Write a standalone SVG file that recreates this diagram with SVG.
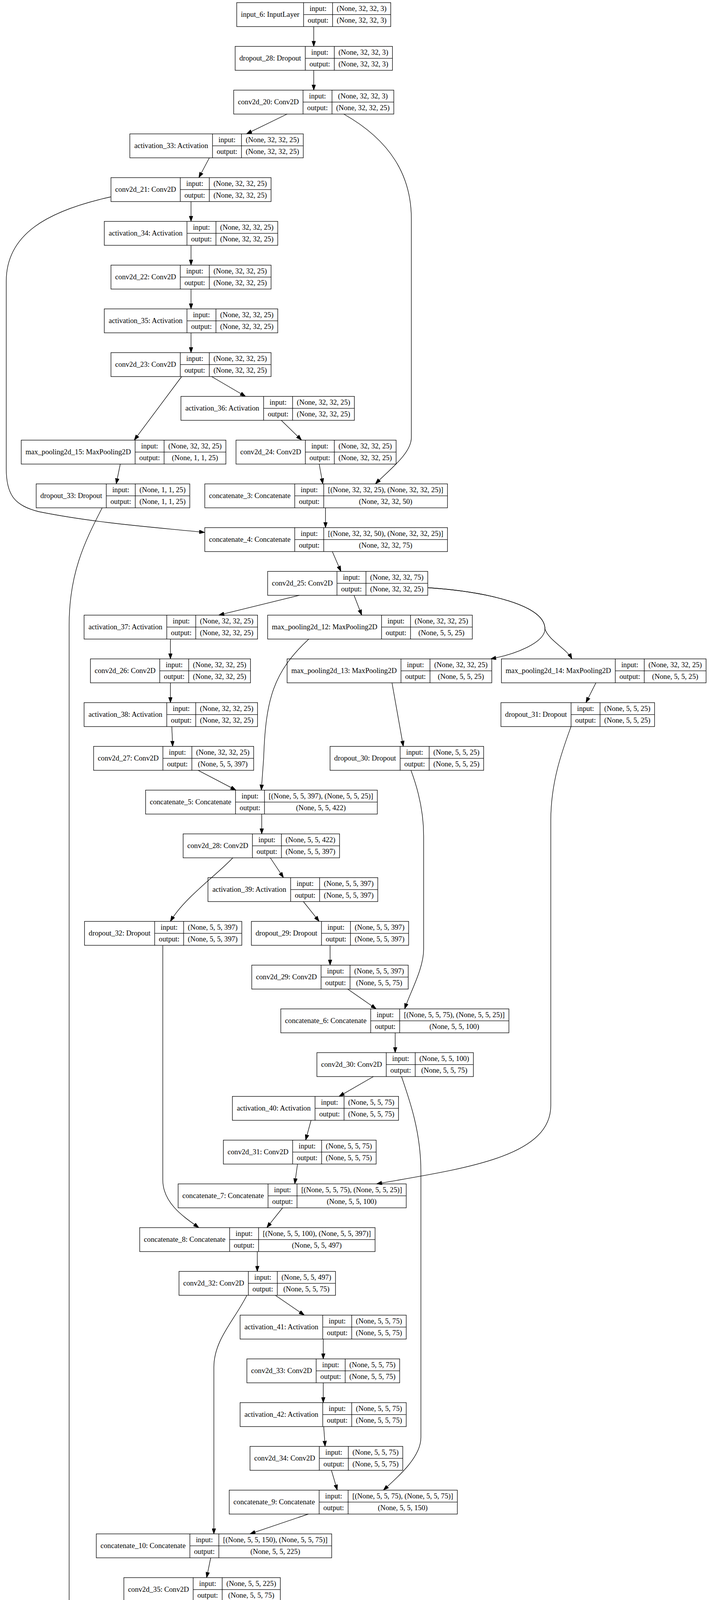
<svg xmlns="http://www.w3.org/2000/svg" width="1815" height="5787" viewBox="0 0 1815 5787">
<style>
.n rect,.n path{fill:none;stroke:#000;stroke-width:1.33}
text{font-family:"Liberation Serif","Times New Roman",serif;font-size:18.67px;text-anchor:middle;fill:#000}
#edges path{fill:none;stroke:#000;stroke-width:1.33;marker-end:url(#ah)}
</style>
<defs>
<marker id="ah" markerUnits="userSpaceOnUse" markerWidth="14" markerHeight="10" viewBox="0 0 13.33 9.33" refX="13.33" refY="4.67" orient="auto"><path d="M0,0 L13.33,4.67 L0,9.33 Z" fill="#000" stroke="#000" stroke-width="1"/></marker>
</defs>
<rect width="1815" height="5787" fill="#fff"/>
<g id="edges">
<path d="M803.2,68 L803.2,118.7"/>
<path d="M803.2,180 L803.2,230.7"/>
<path d="M735,292 L631,342.7"/>
<path d="M880,292 C1000,360 1053,450 1053,560 L1053,1120 C1053,1160 1000,1200 961,1238.7"/>
<path d="M536,404 L509,454.7"/>
<path d="M283.6,504 C120,540 16,600 16,720 L16,1200 C16,1270 40,1295 100,1310 C250,1340 400,1350 524,1363"/>
<path d="M489,516 L489,566.7"/>
<path d="M489,628 L489,678.7"/>
<path d="M489,740 L489,790.7"/>
<path d="M489,852 L489,902.7"/>
<path d="M465,964 L343.7,1126.7"/>
<path d="M541.7,964 L628.5,1014.7"/>
<path d="M720,1076 L772,1126.7"/>
<path d="M307.9,1188 L297.5,1238.7"/>
<path d="M817.1,1188 L826.4,1238.7"/>
<path d="M261.6,1300 C215,1390 177,1470 177,1600 L177,4200 C177,4270 230,4320 264,4374.7"/>
<path d="M833.3,1300 L833.3,1350.7"/>
<path d="M850.7,1412 L872.7,1462.7"/>
<path d="M766.2,1524 L560,1574.7"/>
<path d="M906.3,1524 L926,1574.7"/>
<path d="M1096,1504.5 C1250,1515 1395,1550 1395,1610 C1395,1645 1320,1675 1256,1686.7"/>
<path d="M1096,1504.5 C1250,1515 1395,1550 1395,1610 C1405,1640 1450,1660 1464,1686.7"/>
<path d="M436.3,1636 L436.3,1686.7"/>
<path d="M436.3,1748 L436.3,1798.7"/>
<path d="M439.8,1860 L442,1910.7"/>
<path d="M507,1972 L604,2022.7"/>
<path d="M790.5,1636 C700,1720 680,1790 675,1940 L669,2022.7"/>
<path d="M1003.5,1748 L1032.4,1910.7"/>
<path d="M1525.5,1748 L1500,1798.7"/>
<path d="M1052,1972 C1070,2020 1084.5,2080 1084.5,2140 L1084.5,2430 C1084.5,2480 1050,2540 1036,2582.7"/>
<path d="M1461.8,1860 C1440,1920 1410,2000 1410,2100 L1410,2830 C1410,2960 1200,2990 964,3030.7"/>
<path d="M670,2084 L670,2134.7"/>
<path d="M692,2196 L725.7,2246.7"/>
<path d="M596,2196 C555,2240 470,2300 436.3,2358.7"/>
<path d="M776.6,2308 L817,2358.7"/>
<path d="M845,2420 L845,2470.7"/>
<path d="M890,2532 L963,2582.7"/>
<path d="M416.7,2420 L416.7,3020 C416.7,3080 470,3115 509,3142.7"/>
<path d="M1011.6,2644 L1011.6,2694.7"/>
<path d="M956,2756 L868,2806.7"/>
<path d="M1027.8,2756 C1050,2820 1077.5,2900 1077.5,3000 L1077.5,3680 C1077.5,3730 1020,3780 981.5,3814.7"/>
<path d="M796.3,2868 L782.4,2918.7"/>
<path d="M761.6,2980 L754.6,3030.7"/>
<path d="M723.4,3092 L683,3142.7"/>
<path d="M658.6,3204 L658.6,3254.7"/>
<path d="M704.9,3316 L779,3366.7"/>
<path d="M632,3316 C600,3380 547.5,3430 547.5,3500 L547.5,3926.7"/>
<path d="M827.5,3428 L827.5,3478.7"/>
<path d="M827.5,3540 L827.5,3590.7"/>
<path d="M828.7,3652 L832.2,3702.7"/>
<path d="M848.4,3764 L863.4,3814.7"/>
<path d="M789.4,3876 L640,3926.7"/>
<path d="M539.4,3988 L529,4038.7"/>
<path d="M501,4100 L476.9,4150.7"/>
<path d="M451.4,4212 L442.1,4262.7"/>
<path d="M400.5,4324 L345,4374.7"/>
<path d="M306.3,4436 L306.3,4486.7"/>
<path d="M306.3,4548 L306.3,4598.7"/>
<path d="M306.3,4660 L306.3,4710.7"/>
<path d="M306.3,4772 L306.3,4822.7"/>
<path d="M306.3,4884 L306.3,4934.7"/>
<path d="M306.3,4996 L306.3,5046.7"/>
<path d="M306.3,5108 L306.3,5158.7"/>
<path d="M306.3,5220 L306.3,5270.7"/>
<path d="M306.3,5332 L306.3,5382.7"/>
<path d="M306.3,5444 L306.3,5494.7"/>
<path d="M306.3,5556 L306.3,5606.7"/>
<path d="M306.3,5668 L306.3,5718.7"/>
</g>

<g id="input_6" class="n" transform="translate(606,6.7)"><rect width="394.3" height="61.33"/><path d="M171.2,0V61.33M245.4,0V61.33M171.2,30.67H394.3"/><text x="85.6" y="36.3">input_6: InputLayer</text><text x="208.3" y="21">input:</text><text x="208.3" y="51.6">output:</text><text x="319.85" y="21">(None, 32, 32, 3)</text><text x="319.85" y="51.6">(None, 32, 32, 3)</text></g>

<g id="dropout_28" class="n" transform="translate(602,118.7)"><rect width="402.6" height="61.33"/><path d="M179.5,0V61.33M253.7,0V61.33M179.5,30.67H402.6"/><text x="89.75" y="36.3">dropout_28: Dropout</text><text x="216.6" y="21">input:</text><text x="216.6" y="51.6">output:</text><text x="328.15" y="21">(None, 32, 32, 3)</text><text x="328.15" y="51.6">(None, 32, 32, 3)</text></g>

<g id="conv2d_20" class="n" transform="translate(598.3,230.7)"><rect width="409.8" height="61.33"/><path d="M177.4,0V61.33M251.6,0V61.33M177.4,30.67H409.8"/><text x="88.7" y="36.3">conv2d_20: Conv2D</text><text x="214.5" y="21">input:</text><text x="214.5" y="51.6">output:</text><text x="330.7" y="21">(None, 32, 32, 3)</text><text x="330.7" y="51.6">(None, 32, 32, 25)</text></g>

<g id="activation_33" class="n" transform="translate(332.4,342.7)"><rect width="444" height="61.33"/><path d="M211.6,0V61.33M285.8,0V61.33M211.6,30.67H444"/><text x="105.8" y="36.3">activation_33: Activation</text><text x="248.7" y="21">input:</text><text x="248.7" y="51.6">output:</text><text x="364.9" y="21">(None, 32, 32, 25)</text><text x="364.9" y="51.6">(None, 32, 32, 25)</text></g>

<g id="conv2d_21" class="n" transform="translate(284.1,454.7)"><rect width="409.8" height="61.33"/><path d="M177.4,0V61.33M251.6,0V61.33M177.4,30.67H409.8"/><text x="88.7" y="36.3">conv2d_21: Conv2D</text><text x="214.5" y="21">input:</text><text x="214.5" y="51.6">output:</text><text x="330.7" y="21">(None, 32, 32, 25)</text><text x="330.7" y="51.6">(None, 32, 32, 25)</text></g>

<g id="activation_34" class="n" transform="translate(267,566.7)"><rect width="444" height="61.33"/><path d="M211.6,0V61.33M285.8,0V61.33M211.6,30.67H444"/><text x="105.8" y="36.3">activation_34: Activation</text><text x="248.7" y="21">input:</text><text x="248.7" y="51.6">output:</text><text x="364.9" y="21">(None, 32, 32, 25)</text><text x="364.9" y="51.6">(None, 32, 32, 25)</text></g>

<g id="conv2d_22" class="n" transform="translate(284.1,678.7)"><rect width="409.8" height="61.33"/><path d="M177.4,0V61.33M251.6,0V61.33M177.4,30.67H409.8"/><text x="88.7" y="36.3">conv2d_22: Conv2D</text><text x="214.5" y="21">input:</text><text x="214.5" y="51.6">output:</text><text x="330.7" y="21">(None, 32, 32, 25)</text><text x="330.7" y="51.6">(None, 32, 32, 25)</text></g>

<g id="activation_35" class="n" transform="translate(267,790.7)"><rect width="444" height="61.33"/><path d="M211.6,0V61.33M285.8,0V61.33M211.6,30.67H444"/><text x="105.8" y="36.3">activation_35: Activation</text><text x="248.7" y="21">input:</text><text x="248.7" y="51.6">output:</text><text x="364.9" y="21">(None, 32, 32, 25)</text><text x="364.9" y="51.6">(None, 32, 32, 25)</text></g>

<g id="conv2d_23" class="n" transform="translate(284.1,902.7)"><rect width="409.8" height="61.33"/><path d="M177.4,0V61.33M251.6,0V61.33M177.4,30.67H409.8"/><text x="88.7" y="36.3">conv2d_23: Conv2D</text><text x="214.5" y="21">input:</text><text x="214.5" y="51.6">output:</text><text x="330.7" y="21">(None, 32, 32, 25)</text><text x="330.7" y="51.6">(None, 32, 32, 25)</text></g>

<g id="activation_36" class="n" transform="translate(463.2,1014.7)"><rect width="444" height="61.33"/><path d="M211.6,0V61.33M285.8,0V61.33M211.6,30.67H444"/><text x="105.8" y="36.3">activation_36: Activation</text><text x="248.7" y="21">input:</text><text x="248.7" y="51.6">output:</text><text x="364.9" y="21">(None, 32, 32, 25)</text><text x="364.9" y="51.6">(None, 32, 32, 25)</text></g>

<g id="max_pooling2d_15" class="n" transform="translate(54.4,1126.7)"><rect width="523.9" height="61.33"/><path d="M291.5,0V61.33M365.7,0V61.33M291.5,30.67H523.9"/><text x="145.75" y="36.3">max_pooling2d_15: MaxPooling2D</text><text x="328.6" y="21">input:</text><text x="328.6" y="51.6">output:</text><text x="444.8" y="21">(None, 32, 32, 25)</text><text x="444.8" y="51.6">(None, 1, 1, 25)</text></g>

<g id="conv2d_24" class="n" transform="translate(604.2,1126.7)"><rect width="409.8" height="61.33"/><path d="M177.4,0V61.33M251.6,0V61.33M177.4,30.67H409.8"/><text x="88.7" y="36.3">conv2d_24: Conv2D</text><text x="214.5" y="21">input:</text><text x="214.5" y="51.6">output:</text><text x="330.7" y="21">(None, 32, 32, 25)</text><text x="330.7" y="51.6">(None, 32, 32, 25)</text></g>

<g id="dropout_33" class="n" transform="translate(92.6,1238.7)"><rect width="393.2" height="61.33"/><path d="M179.5,0V61.33M253.7,0V61.33M179.5,30.67H393.2"/><text x="89.75" y="36.3">dropout_33: Dropout</text><text x="216.6" y="21">input:</text><text x="216.6" y="51.6">output:</text><text x="323.45" y="21">(None, 1, 1, 25)</text><text x="323.45" y="51.6">(None, 1, 1, 25)</text></g>

<g id="concatenate_3" class="n" transform="translate(524.3,1238.7)"><rect width="621.2" height="61.33"/><path d="M230.2,0V61.33M304.4,0V61.33M230.2,30.67H621.2"/><text x="115.1" y="36.3">concatenate_3: Concatenate</text><text x="267.3" y="21">input:</text><text x="267.3" y="51.6">output:</text><text x="462.8" y="21">[(None, 32, 32, 25), (None, 32, 32, 25)]</text><text x="462.8" y="51.6">(None, 32, 32, 50)</text></g>

<g id="concatenate_4" class="n" transform="translate(524.3,1350.7)"><rect width="621.2" height="61.33"/><path d="M230.2,0V61.33M304.4,0V61.33M230.2,30.67H621.2"/><text x="115.1" y="36.3">concatenate_4: Concatenate</text><text x="267.3" y="21">input:</text><text x="267.3" y="51.6">output:</text><text x="462.8" y="21">[(None, 32, 32, 50), (None, 32, 32, 25)]</text><text x="462.8" y="51.6">(None, 32, 32, 75)</text></g>

<g id="conv2d_25" class="n" transform="translate(685.2,1462.7)"><rect width="409.8" height="61.33"/><path d="M177.4,0V61.33M251.6,0V61.33M177.4,30.67H409.8"/><text x="88.7" y="36.3">conv2d_25: Conv2D</text><text x="214.5" y="21">input:</text><text x="214.5" y="51.6">output:</text><text x="330.7" y="21">(None, 32, 32, 75)</text><text x="330.7" y="51.6">(None, 32, 32, 25)</text></g>

<g id="activation_37" class="n" transform="translate(215.3,1574.7)"><rect width="444" height="61.33"/><path d="M211.6,0V61.33M285.8,0V61.33M211.6,30.67H444"/><text x="105.8" y="36.3">activation_37: Activation</text><text x="248.7" y="21">input:</text><text x="248.7" y="51.6">output:</text><text x="364.9" y="21">(None, 32, 32, 25)</text><text x="364.9" y="51.6">(None, 32, 32, 25)</text></g>

<g id="max_pooling2d_12" class="n" transform="translate(685.2,1574.7)"><rect width="523.9" height="61.33"/><path d="M291.5,0V61.33M365.7,0V61.33M291.5,30.67H523.9"/><text x="145.75" y="36.3">max_pooling2d_12: MaxPooling2D</text><text x="328.6" y="21">input:</text><text x="328.6" y="51.6">output:</text><text x="444.8" y="21">(None, 32, 32, 25)</text><text x="444.8" y="51.6">(None, 5, 5, 25)</text></g>

<g id="conv2d_26" class="n" transform="translate(231.5,1686.7)"><rect width="409.8" height="61.33"/><path d="M177.4,0V61.33M251.6,0V61.33M177.4,30.67H409.8"/><text x="88.7" y="36.3">conv2d_26: Conv2D</text><text x="214.5" y="21">input:</text><text x="214.5" y="51.6">output:</text><text x="330.7" y="21">(None, 32, 32, 25)</text><text x="330.7" y="51.6">(None, 32, 32, 25)</text></g>

<g id="max_pooling2d_13" class="n" transform="translate(735,1686.7)"><rect width="523.9" height="61.33"/><path d="M291.5,0V61.33M365.7,0V61.33M291.5,30.67H523.9"/><text x="145.75" y="36.3">max_pooling2d_13: MaxPooling2D</text><text x="328.6" y="21">input:</text><text x="328.6" y="51.6">output:</text><text x="444.8" y="21">(None, 32, 32, 25)</text><text x="444.8" y="51.6">(None, 5, 5, 25)</text></g>

<g id="max_pooling2d_14" class="n" transform="translate(1283.6,1686.7)"><rect width="523.9" height="61.33"/><path d="M291.5,0V61.33M365.7,0V61.33M291.5,30.67H523.9"/><text x="145.75" y="36.3">max_pooling2d_14: MaxPooling2D</text><text x="328.6" y="21">input:</text><text x="328.6" y="51.6">output:</text><text x="444.8" y="21">(None, 32, 32, 25)</text><text x="444.8" y="51.6">(None, 5, 5, 25)</text></g>

<g id="activation_38" class="n" transform="translate(215.3,1798.7)"><rect width="444" height="61.33"/><path d="M211.6,0V61.33M285.8,0V61.33M211.6,30.67H444"/><text x="105.8" y="36.3">activation_38: Activation</text><text x="248.7" y="21">input:</text><text x="248.7" y="51.6">output:</text><text x="364.9" y="21">(None, 32, 32, 25)</text><text x="364.9" y="51.6">(None, 32, 32, 25)</text></g>

<g id="dropout_31" class="n" transform="translate(1282.4,1798.7)"><rect width="393.2" height="61.33"/><path d="M179.5,0V61.33M253.7,0V61.33M179.5,30.67H393.2"/><text x="89.75" y="36.3">dropout_31: Dropout</text><text x="216.6" y="21">input:</text><text x="216.6" y="51.6">output:</text><text x="323.45" y="21">(None, 5, 5, 25)</text><text x="323.45" y="51.6">(None, 5, 5, 25)</text></g>

<g id="conv2d_27" class="n" transform="translate(239.6,1910.7)"><rect width="409.8" height="61.33"/><path d="M177.4,0V61.33M251.6,0V61.33M177.4,30.67H409.8"/><text x="88.7" y="36.3">conv2d_27: Conv2D</text><text x="214.5" y="21">input:</text><text x="214.5" y="51.6">output:</text><text x="330.7" y="21">(None, 32, 32, 25)</text><text x="330.7" y="51.6">(None, 5, 5, 397)</text></g>

<g id="dropout_30" class="n" transform="translate(844.9,1910.7)"><rect width="393.2" height="61.33"/><path d="M179.5,0V61.33M253.7,0V61.33M179.5,30.67H393.2"/><text x="89.75" y="36.3">dropout_30: Dropout</text><text x="216.6" y="21">input:</text><text x="216.6" y="51.6">output:</text><text x="323.45" y="21">(None, 5, 5, 25)</text><text x="323.45" y="51.6">(None, 5, 5, 25)</text></g>

<g id="concatenate_5" class="n" transform="translate(372.7,2022.7)"><rect width="593.2" height="61.33"/><path d="M230.2,0V61.33M304.4,0V61.33M230.2,30.67H593.2"/><text x="115.1" y="36.3">concatenate_5: Concatenate</text><text x="267.3" y="21">input:</text><text x="267.3" y="51.6">output:</text><text x="448.8" y="21">[(None, 5, 5, 397), (None, 5, 5, 25)]</text><text x="448.8" y="51.6">(None, 5, 5, 422)</text></g>

<g id="conv2d_28" class="n" transform="translate(468.8,2134.7)"><rect width="400.5" height="61.33"/><path d="M177.4,0V61.33M251.6,0V61.33M177.4,30.67H400.5"/><text x="88.7" y="36.3">conv2d_28: Conv2D</text><text x="214.5" y="21">input:</text><text x="214.5" y="51.6">output:</text><text x="326.05" y="21">(None, 5, 5, 422)</text><text x="326.05" y="51.6">(None, 5, 5, 397)</text></g>

<g id="activation_39" class="n" transform="translate(532.4,2246.7)"><rect width="434.7" height="61.33"/><path d="M211.6,0V61.33M285.8,0V61.33M211.6,30.67H434.7"/><text x="105.8" y="36.3">activation_39: Activation</text><text x="248.7" y="21">input:</text><text x="248.7" y="51.6">output:</text><text x="360.25" y="21">(None, 5, 5, 397)</text><text x="360.25" y="51.6">(None, 5, 5, 397)</text></g>

<g id="dropout_32" class="n" transform="translate(216.4,2358.7)"><rect width="402.6" height="61.33"/><path d="M179.5,0V61.33M253.7,0V61.33M179.5,30.67H402.6"/><text x="89.75" y="36.3">dropout_32: Dropout</text><text x="216.6" y="21">input:</text><text x="216.6" y="51.6">output:</text><text x="328.15" y="21">(None, 5, 5, 397)</text><text x="328.15" y="51.6">(None, 5, 5, 397)</text></g>

<g id="dropout_29" class="n" transform="translate(643.5,2358.7)"><rect width="402.6" height="61.33"/><path d="M179.5,0V61.33M253.7,0V61.33M179.5,30.67H402.6"/><text x="89.75" y="36.3">dropout_29: Dropout</text><text x="216.6" y="21">input:</text><text x="216.6" y="51.6">output:</text><text x="328.15" y="21">(None, 5, 5, 397)</text><text x="328.15" y="51.6">(None, 5, 5, 397)</text></g>

<g id="conv2d_29" class="n" transform="translate(644.5,2470.7)"><rect width="400.5" height="61.33"/><path d="M177.4,0V61.33M251.6,0V61.33M177.4,30.67H400.5"/><text x="88.7" y="36.3">conv2d_29: Conv2D</text><text x="214.5" y="21">input:</text><text x="214.5" y="51.6">output:</text><text x="326.05" y="21">(None, 5, 5, 397)</text><text x="326.05" y="51.6">(None, 5, 5, 75)</text></g>

<g id="concatenate_6" class="n" transform="translate(718.8,2582.7)"><rect width="583.9" height="61.33"/><path d="M230.2,0V61.33M304.4,0V61.33M230.2,30.67H583.9"/><text x="115.1" y="36.3">concatenate_6: Concatenate</text><text x="267.3" y="21">input:</text><text x="267.3" y="51.6">output:</text><text x="444.15" y="21">[(None, 5, 5, 75), (None, 5, 5, 25)]</text><text x="444.15" y="51.6">(None, 5, 5, 100)</text></g>

<g id="conv2d_30" class="n" transform="translate(811.3,2694.7)"><rect width="400.5" height="61.33"/><path d="M177.4,0V61.33M251.6,0V61.33M177.4,30.67H400.5"/><text x="88.7" y="36.3">conv2d_30: Conv2D</text><text x="214.5" y="21">input:</text><text x="214.5" y="51.6">output:</text><text x="326.05" y="21">(None, 5, 5, 100)</text><text x="326.05" y="51.6">(None, 5, 5, 75)</text></g>

<g id="activation_40" class="n" transform="translate(594.9,2806.7)"><rect width="425.3" height="61.33"/><path d="M211.6,0V61.33M285.8,0V61.33M211.6,30.67H425.3"/><text x="105.8" y="36.3">activation_40: Activation</text><text x="248.7" y="21">input:</text><text x="248.7" y="51.6">output:</text><text x="355.55" y="21">(None, 5, 5, 75)</text><text x="355.55" y="51.6">(None, 5, 5, 75)</text></g>

<g id="conv2d_31" class="n" transform="translate(571.8,2918.7)"><rect width="391.1" height="61.33"/><path d="M177.4,0V61.33M251.6,0V61.33M177.4,30.67H391.1"/><text x="88.7" y="36.3">conv2d_31: Conv2D</text><text x="214.5" y="21">input:</text><text x="214.5" y="51.6">output:</text><text x="321.35" y="21">(None, 5, 5, 75)</text><text x="321.35" y="51.6">(None, 5, 5, 75)</text></g>

<g id="concatenate_7" class="n" transform="translate(456,3030.7)"><rect width="583.9" height="61.33"/><path d="M230.2,0V61.33M304.4,0V61.33M230.2,30.67H583.9"/><text x="115.1" y="36.3">concatenate_7: Concatenate</text><text x="267.3" y="21">input:</text><text x="267.3" y="51.6">output:</text><text x="444.15" y="21">[(None, 5, 5, 75), (None, 5, 5, 25)]</text><text x="444.15" y="51.6">(None, 5, 5, 100)</text></g>

<g id="concatenate_8" class="n" transform="translate(357.6,3142.7)"><rect width="602.6" height="61.33"/><path d="M230.2,0V61.33M304.4,0V61.33M230.2,30.67H602.6"/><text x="115.1" y="36.3">concatenate_8: Concatenate</text><text x="267.3" y="21">input:</text><text x="267.3" y="51.6">output:</text><text x="453.5" y="21">[(None, 5, 5, 100), (None, 5, 5, 397)]</text><text x="453.5" y="51.6">(None, 5, 5, 497)</text></g>

<g id="conv2d_32" class="n" transform="translate(458.3,3254.7)"><rect width="400.5" height="61.33"/><path d="M177.4,0V61.33M251.6,0V61.33M177.4,30.67H400.5"/><text x="88.7" y="36.3">conv2d_32: Conv2D</text><text x="214.5" y="21">input:</text><text x="214.5" y="51.6">output:</text><text x="326.05" y="21">(None, 5, 5, 497)</text><text x="326.05" y="51.6">(None, 5, 5, 75)</text></g>

<g id="activation_41" class="n" transform="translate(614.6,3366.7)"><rect width="425.3" height="61.33"/><path d="M211.6,0V61.33M285.8,0V61.33M211.6,30.67H425.3"/><text x="105.8" y="36.3">activation_41: Activation</text><text x="248.7" y="21">input:</text><text x="248.7" y="51.6">output:</text><text x="355.55" y="21">(None, 5, 5, 75)</text><text x="355.55" y="51.6">(None, 5, 5, 75)</text></g>

<g id="conv2d_33" class="n" transform="translate(632,3478.7)"><rect width="391.1" height="61.33"/><path d="M177.4,0V61.33M251.6,0V61.33M177.4,30.67H391.1"/><text x="88.7" y="36.3">conv2d_33: Conv2D</text><text x="214.5" y="21">input:</text><text x="214.5" y="51.6">output:</text><text x="321.35" y="21">(None, 5, 5, 75)</text><text x="321.35" y="51.6">(None, 5, 5, 75)</text></g>

<g id="activation_42" class="n" transform="translate(614.6,3590.7)"><rect width="425.3" height="61.33"/><path d="M211.6,0V61.33M285.8,0V61.33M211.6,30.67H425.3"/><text x="105.8" y="36.3">activation_42: Activation</text><text x="248.7" y="21">input:</text><text x="248.7" y="51.6">output:</text><text x="355.55" y="21">(None, 5, 5, 75)</text><text x="355.55" y="51.6">(None, 5, 5, 75)</text></g>

<g id="conv2d_34" class="n" transform="translate(640,3702.7)"><rect width="391.1" height="61.33"/><path d="M177.4,0V61.33M251.6,0V61.33M177.4,30.67H391.1"/><text x="88.7" y="36.3">conv2d_34: Conv2D</text><text x="214.5" y="21">input:</text><text x="214.5" y="51.6">output:</text><text x="321.35" y="21">(None, 5, 5, 75)</text><text x="321.35" y="51.6">(None, 5, 5, 75)</text></g>

<g id="concatenate_9" class="n" transform="translate(586.8,3814.7)"><rect width="583.9" height="61.33"/><path d="M230.2,0V61.33M304.4,0V61.33M230.2,30.67H583.9"/><text x="115.1" y="36.3">concatenate_9: Concatenate</text><text x="267.3" y="21">input:</text><text x="267.3" y="51.6">output:</text><text x="444.15" y="21">[(None, 5, 5, 75), (None, 5, 5, 75)]</text><text x="444.15" y="51.6">(None, 5, 5, 150)</text></g>

<g id="concatenate_10" class="n" transform="translate(246.5,3926.7)"><rect width="602.6" height="61.33"/><path d="M239.6,0V61.33M313.8,0V61.33M239.6,30.67H602.6"/><text x="119.8" y="36.3">concatenate_10: Concatenate</text><text x="276.7" y="21">input:</text><text x="276.7" y="51.6">output:</text><text x="458.2" y="21">[(None, 5, 5, 150), (None, 5, 5, 75)]</text><text x="458.2" y="51.6">(None, 5, 5, 225)</text></g>

<g id="conv2d_35" class="n" transform="translate(317.1,4038.7)"><rect width="400.5" height="61.33"/><path d="M177.4,0V61.33M251.6,0V61.33M177.4,30.67H400.5"/><text x="88.7" y="36.3">conv2d_35: Conv2D</text><text x="214.5" y="21">input:</text><text x="214.5" y="51.6">output:</text><text x="326.05" y="21">(None, 5, 5, 225)</text><text x="326.05" y="51.6">(None, 5, 5, 75)</text></g>

<g id="activation_43" class="n" transform="translate(244.2,4150.7)"><rect width="425.3" height="61.33"/><path d="M211.6,0V61.33M285.8,0V61.33M211.6,30.67H425.3"/><text x="105.8" y="36.3">activation_43: Activation</text><text x="248.7" y="21">input:</text><text x="248.7" y="51.6">output:</text><text x="355.55" y="21">(None, 5, 5, 75)</text><text x="355.55" y="51.6">(None, 5, 5, 75)</text></g>

<g id="conv2d_36" class="n" transform="translate(235,4262.7)"><rect width="400.5" height="61.33"/><path d="M177.4,0V61.33M251.6,0V61.33M177.4,30.67H400.5"/><text x="88.7" y="36.3">conv2d_36: Conv2D</text><text x="214.5" y="21">input:</text><text x="214.5" y="51.6">output:</text><text x="326.05" y="21">(None, 5, 5, 75)</text><text x="326.05" y="51.6">(None, 1, 1, 437)</text></g>

<g id="concatenate_11" class="n" transform="translate(4.8,4374.7)"><rect width="602.6" height="61.33"/><path d="M239.6,0V61.33M313.8,0V61.33M239.6,30.67H602.6"/><text x="119.8" y="36.3">concatenate_11: Concatenate</text><text x="276.7" y="21">input:</text><text x="276.7" y="51.6">output:</text><text x="458.2" y="21">[(None, 1, 1, 437), (None, 1, 1, 25)]</text><text x="458.2" y="51.6">(None, 1, 1, 462)</text></g>

<g id="conv2d_37" class="n" transform="translate(106.1,4486.7)"><rect width="400.5" height="61.33"/><path d="M177.4,0V61.33M251.6,0V61.33M177.4,30.67H400.5"/><text x="88.7" y="36.3">conv2d_37: Conv2D</text><text x="214.5" y="21">input:</text><text x="214.5" y="51.6">output:</text><text x="326.05" y="21">(None, 1, 1, 462)</text><text x="326.05" y="51.6">(None, 1, 1, 437)</text></g>

<g id="activation_44" class="n" transform="translate(89,4598.7)"><rect width="434.7" height="61.33"/><path d="M211.6,0V61.33M285.8,0V61.33M211.6,30.67H434.7"/><text x="105.8" y="36.3">activation_44: Activation</text><text x="248.7" y="21">input:</text><text x="248.7" y="51.6">output:</text><text x="360.25" y="21">(None, 1, 1, 437)</text><text x="360.25" y="51.6">(None, 1, 1, 437)</text></g>

<g id="dropout_34" class="n" transform="translate(105,4710.7)"><rect width="402.6" height="61.33"/><path d="M179.5,0V61.33M253.7,0V61.33M179.5,30.67H402.6"/><text x="89.75" y="36.3">dropout_34: Dropout</text><text x="216.6" y="21">input:</text><text x="216.6" y="51.6">output:</text><text x="328.15" y="21">(None, 1, 1, 437)</text><text x="328.15" y="51.6">(None, 1, 1, 437)</text></g>

<g id="flatten_5" class="n" transform="translate(120.05,4822.7)"><rect width="372.5" height="61.33"/><path d="M149.4,0V61.33M223.6,0V61.33M149.4,30.67H372.5"/><text x="74.7" y="36.3">flatten_5: Flatten</text><text x="186.5" y="21">input:</text><text x="186.5" y="51.6">output:</text><text x="298.05" y="21">(None, 1, 1, 437)</text><text x="298.05" y="51.6">(None, 437)</text></g>

<g id="dense_16" class="n" transform="translate(139.3,4934.7)"><rect width="334" height="61.33"/><path d="M148.3,0V61.33M222.5,0V61.33M148.3,30.67H334"/><text x="74.15" y="36.3">dense_16: Dense</text><text x="185.4" y="21">input:</text><text x="185.4" y="51.6">output:</text><text x="278.25" y="21">(None, 437)</text><text x="278.25" y="51.6">(None, 664)</text></g>

<g id="activation_45" class="n" transform="translate(107.65,5046.7)"><rect width="397.3" height="61.33"/><path d="M211.6,0V61.33M285.8,0V61.33M211.6,30.67H397.3"/><text x="105.8" y="36.3">activation_45: Activation</text><text x="248.7" y="21">input:</text><text x="248.7" y="51.6">output:</text><text x="341.55" y="21">(None, 664)</text><text x="341.55" y="51.6">(None, 664)</text></g>

<g id="dropout_35" class="n" transform="translate(123.7,5158.7)"><rect width="365.2" height="61.33"/><path d="M179.5,0V61.33M253.7,0V61.33M179.5,30.67H365.2"/><text x="89.75" y="36.3">dropout_35: Dropout</text><text x="216.6" y="21">input:</text><text x="216.6" y="51.6">output:</text><text x="309.45" y="21">(None, 664)</text><text x="309.45" y="51.6">(None, 664)</text></g>

<g id="dense_17" class="n" transform="translate(134.6,5270.7)"><rect width="343.4" height="61.33"/><path d="M148.3,0V61.33M222.5,0V61.33M148.3,30.67H343.4"/><text x="74.15" y="36.3">dense_17: Dense</text><text x="185.4" y="21">input:</text><text x="185.4" y="51.6">output:</text><text x="282.95" y="21">(None, 664)</text><text x="282.95" y="51.6">(None, 1241)</text></g>

<g id="activation_46" class="n" transform="translate(102.95,5382.7)"><rect width="406.7" height="61.33"/><path d="M211.6,0V61.33M285.8,0V61.33M211.6,30.67H406.7"/><text x="105.8" y="36.3">activation_46: Activation</text><text x="248.7" y="21">input:</text><text x="248.7" y="51.6">output:</text><text x="346.25" y="21">(None, 1241)</text><text x="346.25" y="51.6">(None, 1241)</text></g>

<g id="dropout_36" class="n" transform="translate(119,5494.7)"><rect width="374.6" height="61.33"/><path d="M179.5,0V61.33M253.7,0V61.33M179.5,30.67H374.6"/><text x="89.75" y="36.3">dropout_36: Dropout</text><text x="216.6" y="21">input:</text><text x="216.6" y="51.6">output:</text><text x="314.15" y="21">(None, 1241)</text><text x="314.15" y="51.6">(None, 1241)</text></g>

<g id="dense_18" class="n" transform="translate(134.6,5606.7)"><rect width="343.4" height="61.33"/><path d="M148.3,0V61.33M222.5,0V61.33M148.3,30.67H343.4"/><text x="74.15" y="36.3">dense_18: Dense</text><text x="185.4" y="21">input:</text><text x="185.4" y="51.6">output:</text><text x="282.95" y="21">(None, 1241)</text><text x="282.95" y="51.6">(None, 10)</text></g>

<g id="activation_47" class="n" transform="translate(112.3,5718.7)"><rect width="388" height="61.33"/><path d="M211.6,0V61.33M285.8,0V61.33M211.6,30.67H388"/><text x="105.8" y="36.3">activation_47: Activation</text><text x="248.7" y="21">input:</text><text x="248.7" y="51.6">output:</text><text x="336.9" y="21">(None, 10)</text><text x="336.9" y="51.6">(None, 10)</text></g>
</svg>
